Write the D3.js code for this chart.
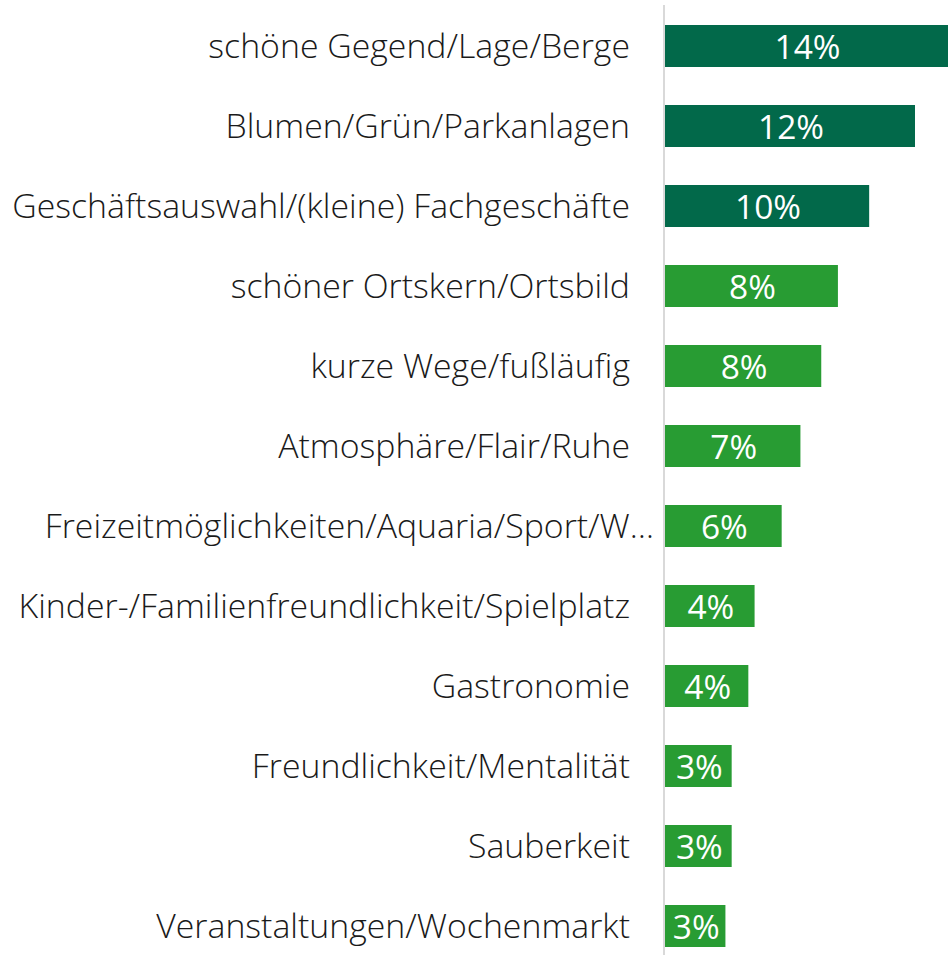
<!DOCTYPE html>
<html>
<head>
<meta charset="utf-8">
<script src="https://cdn.jsdelivr.net/npm/d3@7"></script>
<style>
  body { margin: 0; background: #fff; }
  text { font-family: "Open Sans", Lato, sans-serif; }
</style>
</head>
<body>
<div id="chart"></div>
<script>
const categories = [
  "schöne Gegend/Lage/Berge",
  "Blumen/Grün/Parkanlagen",
  "Geschäftsauswahl/(kleine) Fachgeschäfte",
  "schöner Ortskern/Ortsbild",
  "kurze Wege/fußläufig",
  "Atmosphäre/Flair/Ruhe",
  "Freizeitmöglichkeiten/Aquaria/Sport/W…",
  "Kinder-/Familienfreundlichkeit/Spielplatz",
  "Gastronomie",
  "Freundlichkeit/Mentalität",
  "Sauberkeit",
  "Veranstaltungen/Wochenmarkt"
];
const values = [14.2, 12.0, 9.8, 8.3, 7.5, 6.5, 5.6, 4.3, 4.0, 3.2, 3.2, 2.9];
const labels = ["14%", "12%", "10%", "8%", "8%", "7%", "6%", "4%", "4%", "3%", "3%", "3%"];
const topGroup = 3; // first three bars in dark green

const width = 948, height = 955;
const x0 = 665;

const svg = d3.select("#chart").append("svg")
  .attr("width", width)
  .attr("height", height);

const x = d3.scaleLinear()
  .domain([0, 12])
  .range([x0, x0 + 250]);

const y = d3.scaleBand()
  .domain(categories)
  .range([6, 966])
  .paddingInner(0.475)
  .paddingOuter(0.2375);

const color = (d, i) => i < topGroup ? "#02694A" : "#289C33";

svg.selectAll("rect.bar")
  .data(values)
  .enter().append("rect")
    .attr("class", "bar")
    .attr("x", x(0))
    .attr("y", (d, i) => y(categories[i]))
    .attr("width", d => x(d) - x(0))
    .attr("height", y.bandwidth())
    .attr("fill", color);

// vertical axis line
svg.append("line")
  .attr("x1", x0 - 1).attr("x2", x0 - 1)
  .attr("y1", 5).attr("y2", height)
  .attr("stroke", "#d9d9d9")
  .attr("stroke-width", 2);

// category labels
const cats = svg.selectAll("text.cat")
  .data(categories)
  .enter().append("text")
    .attr("class", "cat")
    .attr("x", d => d.endsWith("…") ? 654 : 630)
    .attr("y", d => y(d) + y.bandwidth() / 2 - 1)
    .attr("text-anchor", "end")
    .attr("dominant-baseline", "central")
    .attr("font-size", 28)
    .attr("font-weight", 300)
    .attr("fill", "#1a1a1a")
    .text(d => d);

// fit font so the longest label spans like the original (~618px)
const longest = cats.filter((d, i) => i === 2).node().getComputedTextLength();
cats.attr("font-size", 28 * 618 / longest);

// value labels
const vals = svg.selectAll("text.val")
  .data(values)
  .enter().append("text")
    .attr("class", "val")
    .attr("x", d => (x(0) + Math.min(x(d), width)) / 2 + 1)
    .attr("y", (d, i) => y(categories[i]) + y.bandwidth() / 2)
    .attr("text-anchor", "middle")
    .attr("dominant-baseline", "central")
    .attr("font-size", 28)
    .attr("fill", "#fff")
    .text((d, i) => labels[i]);

const w14 = vals.filter((d, i) => i === 0).node().getComputedTextLength();
vals.attr("font-size", 28 * 66 / w14);
</script>
</body>
</html>
